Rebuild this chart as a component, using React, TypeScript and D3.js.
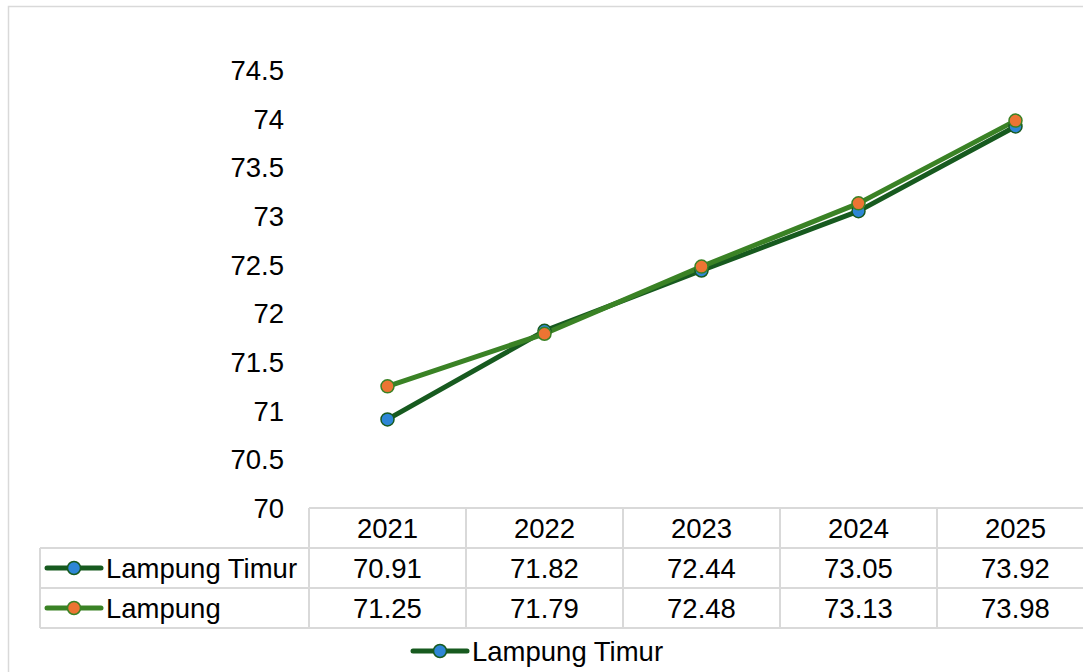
import { useEffect, useRef } from 'react';
import * as d3 from 'd3';

const years = ['2021', '2022', '2023', '2024', '2025'];
const lampungTimur = [70.91, 71.82, 72.44, 73.05, 73.92];
const lampung = [71.25, 71.79, 72.48, 73.13, 73.98];
const yTicks = [70, 70.5, 71, 71.5, 72, 72.5, 73, 73.5, 74, 74.5];

const seriesNames = ['Lampung Timur', 'Lampung'];

const width = 1083;
const height = 672;

export default function App() {
  const svgRef = useRef<SVGSVGElement>(null);

  useEffect(() => {
    if (!svgRef.current) return;
    const svg = d3.select(svgRef.current);
    svg.selectAll('*').remove();

    const font = 'Liberation Sans, Arial, sans-serif';
    const fontSize = 27.5;
    const grid = '#d9d9d9';

    const series = [
      { name: seriesNames[0], values: lampungTimur, line: '#175a1f', fill: '#2e86d6', stroke: '#175a1f' },
      { name: seriesNames[1], values: lampung, line: '#3a8225', fill: '#ec7433', stroke: '#3a8225' },
    ];

    // chart area border
    svg.append('rect')
      .attr('x', 8.5).attr('y', 6.5)
      .attr('width', width + 20).attr('height', height + 20)
      .attr('fill', 'white')
      .attr('stroke', grid)
      .attr('stroke-width', 1.5);

    // Scales
    const x = d3.scaleBand<string>().domain(years).range([309, 1094]);
    const y = d3.scaleLinear().domain([70, 74.5]).range([508, 70]);
    const cx = (d: string) => (x(d) || 0) + x.bandwidth() / 2;

    // Y axis labels
    svg.append('g')
      .selectAll('text')
      .data(yTicks)
      .enter().append('text')
      .attr('x', 284)
      .attr('y', d => y(d))
      .attr('dy', '0.36em')
      .attr('text-anchor', 'end')
      .style('font-family', font)
      .style('font-size', `${fontSize}px`)
      .attr('fill', '#000')
      .text(d => d3.format('')(d));

    // Data table
    const rowH = 40;
    const tableTop = y(70);
    const tbl = svg.append('g').attr('stroke', grid).attr('stroke-width', 2);
    tbl.append('line').attr('x1', 309).attr('x2', 1094).attr('y1', tableTop).attr('y2', tableTop);
    [1, 2, 3].forEach(i => {
      tbl.append('line').attr('x1', 40).attr('x2', 1094)
        .attr('y1', tableTop + i * rowH).attr('y2', tableTop + i * rowH);
    });
    tbl.append('line').attr('x1', 40).attr('x2', 40)
      .attr('y1', tableTop + rowH).attr('y2', tableTop + 3 * rowH);
    years.forEach(yr => {
      const xx = x(yr) || 0;
      tbl.append('line').attr('x1', xx).attr('x2', xx)
        .attr('y1', tableTop).attr('y2', tableTop + 3 * rowH);
    });

    // header years
    svg.append('g')
      .selectAll('text')
      .data(years)
      .enter().append('text')
      .attr('x', d => cx(d))
      .attr('y', tableTop + rowH / 2)
      .attr('dy', '0.36em')
      .attr('text-anchor', 'middle')
      .style('font-family', font)
      .style('font-size', `${fontSize}px`)
      .text(d => d);

    const drawKey = (g: d3.Selection<SVGGElement, unknown, null, undefined>, s: typeof series[0], x0: number, yy: number) => {
      g.append('line')
        .attr('x1', x0).attr('x2', x0 + 54)
        .attr('y1', yy).attr('y2', yy)
        .attr('stroke', s.line).attr('stroke-width', 5)
        .attr('stroke-linecap', 'round');
      g.append('circle')
        .attr('cx', x0 + 27).attr('cy', yy).attr('r', 6.5)
        .attr('fill', s.fill).attr('stroke', s.stroke).attr('stroke-width', 1.5);
      g.append('text')
        .attr('x', x0 + 59).attr('y', yy)
        .attr('dy', '0.36em')
        .style('font-family', font)
        .style('font-size', `${fontSize}px`)
        .text(s.name);
    };

    series.forEach((s, i) => {
      const rowY = tableTop + rowH * (i + 1) + rowH / 2;
      const g = svg.append('g');
      drawKey(g, s, 47, rowY);
      g.selectAll('text.val')
        .data(s.values)
        .enter().append('text')
        .attr('class', 'val')
        .attr('x', (_d, j) => cx(years[j]))
        .attr('y', rowY)
        .attr('dy', '0.36em')
        .attr('text-anchor', 'middle')
        .style('font-family', font)
        .style('font-size', `${fontSize}px`)
        .text(d => d.toFixed(2));
    });

    // Lines
    const line = d3.line<number>()
      .x((_d, j) => cx(years[j]))
      .y(d => y(d));

    series.forEach(s => {
      svg.append('path')
        .datum(s.values)
        .attr('fill', 'none')
        .attr('stroke', s.line)
        .attr('stroke-width', 5)
        .attr('stroke-linejoin', 'round')
        .attr('d', line);
    });

    series.forEach(s => {
      svg.append('g')
        .selectAll('circle')
        .data(s.values)
        .enter().append('circle')
        .attr('cx', (_d, j) => cx(years[j]))
        .attr('cy', d => y(d))
        .attr('r', 6.5)
        .attr('fill', s.fill)
        .attr('stroke', s.stroke)
        .attr('stroke-width', 1.5);
    });

    // Bottom legend
    drawKey(svg.append('g'), series[0], 413, 651);
  }, []);

  return (
    <svg
      ref={svgRef}
      width={width}
      height={height}
      style={{ position: 'absolute', left: 0, top: 0, background: 'white' }}
    />
  );
}
